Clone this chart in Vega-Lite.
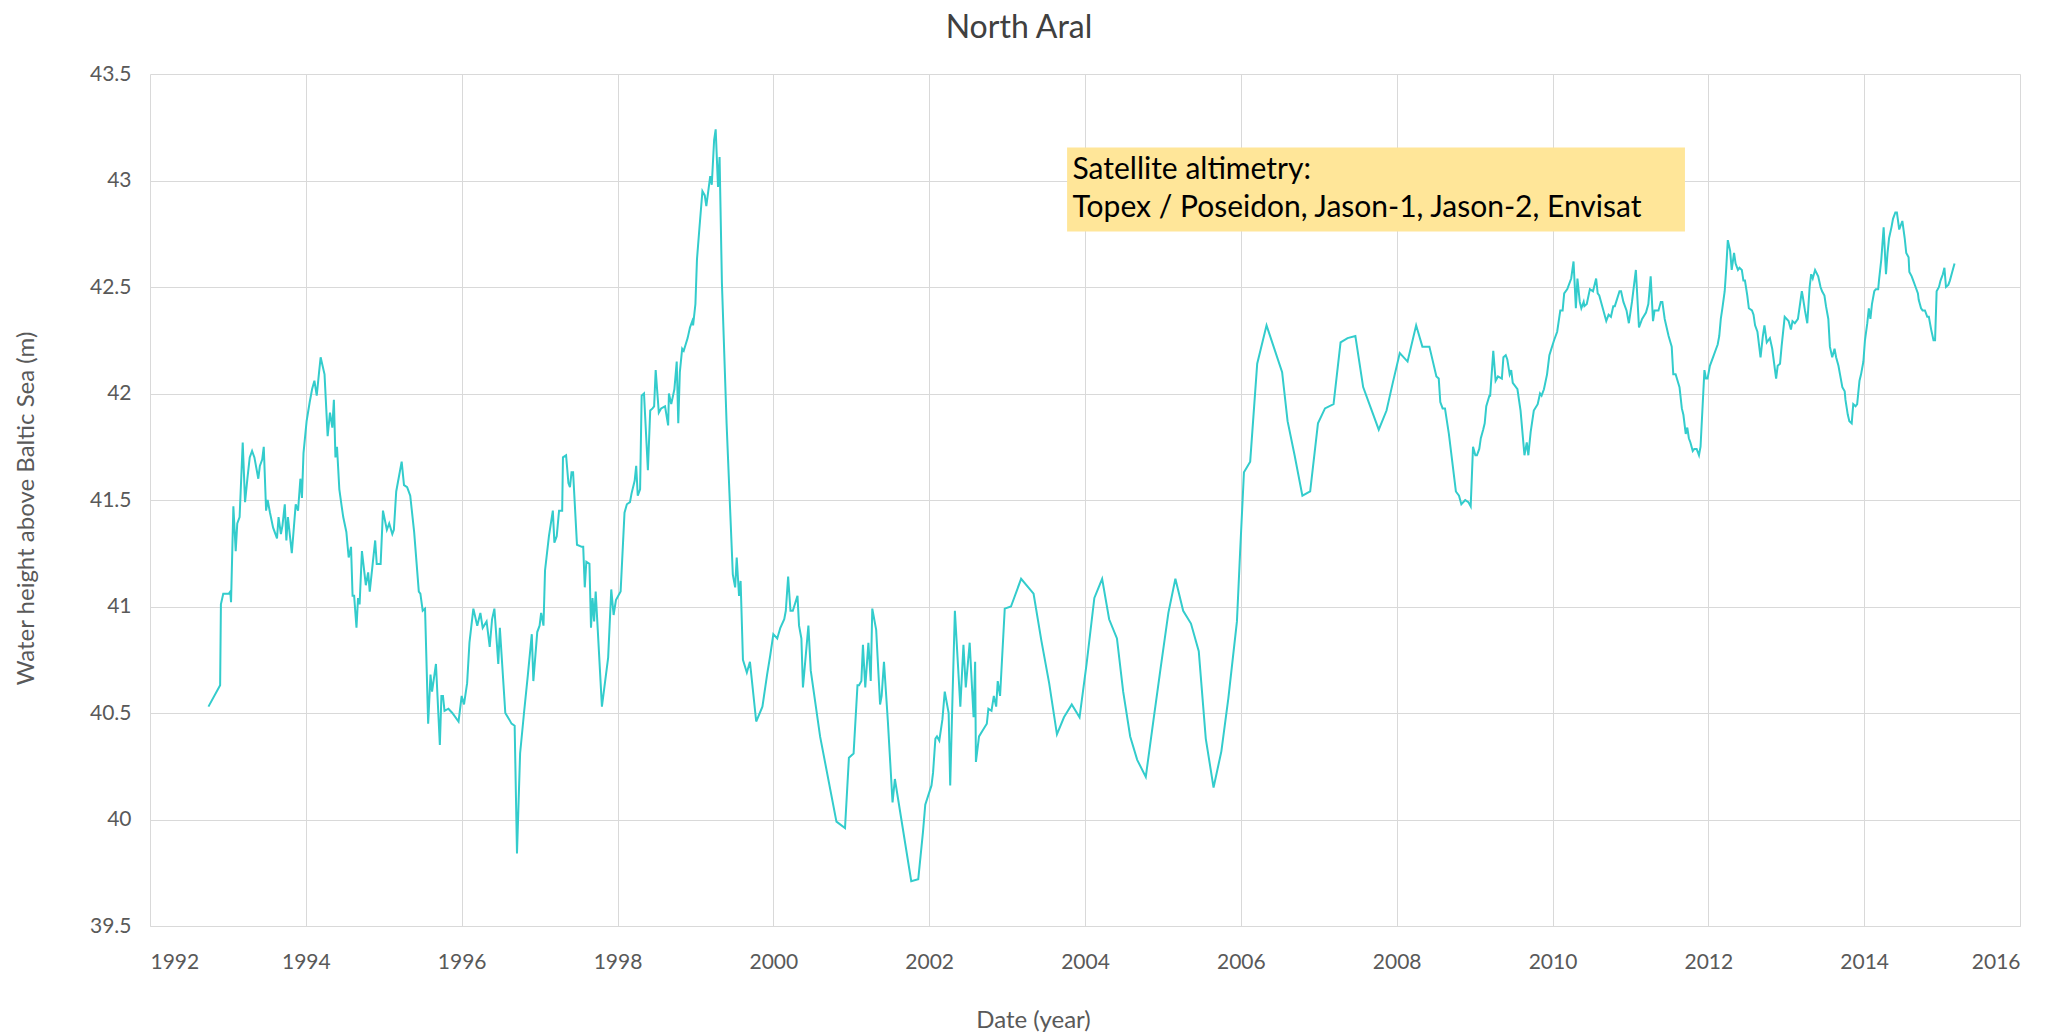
{
  "$schema": "https://vega.github.io/schema/vega-lite/v6.json",
  "width": 1870,
  "height": 852,
  "autosize": "none",
  "padding": {"left": 150, "top": 74, "right": 49, "bottom": 108},
  "background": "white",
  "config": {
    "font": "Lato",
    "view": {"stroke": null}
  },
  "title": {
    "text": "North Aral",
    "fontSize": 32,
    "fontWeight": "normal",
    "color": "#404040",
    "anchor": "middle",
    "dx": -66,
    "offset": 18
  },
  "datasets": {
    "series": [
      {"t": 1992.75, "h": 40.53}, {"t": 1992.90, "h": 40.63}, {"t": 1992.91, "h": 41.01}, {"t": 1992.94, "h": 41.06},
      {"t": 1993.01, "h": 41.06}, {"t": 1993.03, "h": 41.07}, {"t": 1993.04, "h": 41.02}, {"t": 1993.07, "h": 41.47},
      {"t": 1993.10, "h": 41.26}, {"t": 1993.12, "h": 41.39}, {"t": 1993.15, "h": 41.42}, {"t": 1993.19, "h": 41.77},
      {"t": 1993.22, "h": 41.49}, {"t": 1993.25, "h": 41.60}, {"t": 1993.28, "h": 41.70}, {"t": 1993.31, "h": 41.73},
      {"t": 1993.34, "h": 41.70}, {"t": 1993.39, "h": 41.60}, {"t": 1993.41, "h": 41.66}, {"t": 1993.44, "h": 41.69},
      {"t": 1993.46, "h": 41.75}, {"t": 1993.49, "h": 41.45}, {"t": 1993.51, "h": 41.50}, {"t": 1993.54, "h": 41.44},
      {"t": 1993.58, "h": 41.37}, {"t": 1993.63, "h": 41.32}, {"t": 1993.65, "h": 41.42}, {"t": 1993.68, "h": 41.34},
      {"t": 1993.70, "h": 41.38}, {"t": 1993.73, "h": 41.48}, {"t": 1993.75, "h": 41.31}, {"t": 1993.77, "h": 41.42},
      {"t": 1993.82, "h": 41.25}, {"t": 1993.87, "h": 41.48}, {"t": 1993.90, "h": 41.45}, {"t": 1993.93, "h": 41.60},
      {"t": 1993.95, "h": 41.51}, {"t": 1993.97, "h": 41.72}, {"t": 1994.01, "h": 41.87}, {"t": 1994.05, "h": 41.96},
      {"t": 1994.08, "h": 42.02}, {"t": 1994.11, "h": 42.06}, {"t": 1994.14, "h": 41.99}, {"t": 1994.17, "h": 42.10},
      {"t": 1994.19, "h": 42.17}, {"t": 1994.24, "h": 42.09}, {"t": 1994.28, "h": 41.80}, {"t": 1994.31, "h": 41.91},
      {"t": 1994.34, "h": 41.84}, {"t": 1994.36, "h": 41.97}, {"t": 1994.38, "h": 41.70}, {"t": 1994.40, "h": 41.75},
      {"t": 1994.43, "h": 41.55}, {"t": 1994.46, "h": 41.47}, {"t": 1994.48, "h": 41.42}, {"t": 1994.52, "h": 41.35},
      {"t": 1994.55, "h": 41.23}, {"t": 1994.58, "h": 41.28}, {"t": 1994.60, "h": 41.05}, {"t": 1994.62, "h": 41.05},
      {"t": 1994.65, "h": 40.90}, {"t": 1994.67, "h": 41.04}, {"t": 1994.69, "h": 41.01}, {"t": 1994.72, "h": 41.26},
      {"t": 1994.77, "h": 41.10}, {"t": 1994.80, "h": 41.16}, {"t": 1994.82, "h": 41.07}, {"t": 1994.89, "h": 41.31},
      {"t": 1994.91, "h": 41.20}, {"t": 1994.96, "h": 41.20}, {"t": 1994.99, "h": 41.45}, {"t": 1995.04, "h": 41.36},
      {"t": 1995.07, "h": 41.39}, {"t": 1995.11, "h": 41.34}, {"t": 1995.13, "h": 41.36}, {"t": 1995.16, "h": 41.54},
      {"t": 1995.23, "h": 41.68}, {"t": 1995.26, "h": 41.57}, {"t": 1995.30, "h": 41.56}, {"t": 1995.34, "h": 41.52},
      {"t": 1995.39, "h": 41.35}, {"t": 1995.45, "h": 41.07}, {"t": 1995.47, "h": 41.06}, {"t": 1995.50, "h": 40.98},
      {"t": 1995.53, "h": 40.99}, {"t": 1995.57, "h": 40.45}, {"t": 1995.60, "h": 40.68}, {"t": 1995.62, "h": 40.60},
      {"t": 1995.67, "h": 40.73}, {"t": 1995.72, "h": 40.35}, {"t": 1995.74, "h": 40.58}, {"t": 1995.76, "h": 40.58},
      {"t": 1995.78, "h": 40.51}, {"t": 1995.83, "h": 40.52}, {"t": 1995.88, "h": 40.50}, {"t": 1995.96, "h": 40.46},
      {"t": 1996.00, "h": 40.58}, {"t": 1996.03, "h": 40.54}, {"t": 1996.07, "h": 40.64}, {"t": 1996.10, "h": 40.83},
      {"t": 1996.15, "h": 40.99}, {"t": 1996.20, "h": 40.91}, {"t": 1996.24, "h": 40.97}, {"t": 1996.27, "h": 40.90},
      {"t": 1996.32, "h": 40.93}, {"t": 1996.36, "h": 40.81}, {"t": 1996.39, "h": 40.94}, {"t": 1996.42, "h": 40.99},
      {"t": 1996.47, "h": 40.73}, {"t": 1996.49, "h": 40.90}, {"t": 1996.56, "h": 40.50}, {"t": 1996.61, "h": 40.47},
      {"t": 1996.64, "h": 40.45}, {"t": 1996.68, "h": 40.44}, {"t": 1996.71, "h": 39.84}, {"t": 1996.75, "h": 40.31},
      {"t": 1996.80, "h": 40.50}, {"t": 1996.85, "h": 40.68}, {"t": 1996.90, "h": 40.87}, {"t": 1996.92, "h": 40.65},
      {"t": 1996.97, "h": 40.88}, {"t": 1997.00, "h": 40.91}, {"t": 1997.02, "h": 40.97}, {"t": 1997.05, "h": 40.91},
      {"t": 1997.07, "h": 41.17}, {"t": 1997.12, "h": 41.33}, {"t": 1997.17, "h": 41.45}, {"t": 1997.19, "h": 41.30},
      {"t": 1997.22, "h": 41.33}, {"t": 1997.25, "h": 41.45}, {"t": 1997.29, "h": 41.45}, {"t": 1997.30, "h": 41.70},
      {"t": 1997.34, "h": 41.71}, {"t": 1997.37, "h": 41.58}, {"t": 1997.39, "h": 41.56}, {"t": 1997.41, "h": 41.63},
      {"t": 1997.43, "h": 41.63}, {"t": 1997.48, "h": 41.29}, {"t": 1997.54, "h": 41.28}, {"t": 1997.56, "h": 41.28},
      {"t": 1997.58, "h": 41.09}, {"t": 1997.60, "h": 41.21}, {"t": 1997.64, "h": 41.20}, {"t": 1997.66, "h": 40.90},
      {"t": 1997.68, "h": 41.04}, {"t": 1997.70, "h": 40.93}, {"t": 1997.72, "h": 41.07}, {"t": 1997.80, "h": 40.53},
      {"t": 1997.88, "h": 40.76}, {"t": 1997.92, "h": 41.08}, {"t": 1997.95, "h": 40.96}, {"t": 1997.98, "h": 41.03},
      {"t": 1998.04, "h": 41.07}, {"t": 1998.09, "h": 41.44}, {"t": 1998.12, "h": 41.48}, {"t": 1998.16, "h": 41.49},
      {"t": 1998.18, "h": 41.53}, {"t": 1998.22, "h": 41.59}, {"t": 1998.24, "h": 41.66}, {"t": 1998.26, "h": 41.52},
      {"t": 1998.29, "h": 41.55}, {"t": 1998.31, "h": 41.99}, {"t": 1998.34, "h": 42.00}, {"t": 1998.39, "h": 41.64},
      {"t": 1998.42, "h": 41.92}, {"t": 1998.45, "h": 41.93}, {"t": 1998.47, "h": 41.94}, {"t": 1998.49, "h": 42.11},
      {"t": 1998.53, "h": 41.91}, {"t": 1998.56, "h": 41.93}, {"t": 1998.61, "h": 41.94}, {"t": 1998.65, "h": 41.85},
      {"t": 1998.66, "h": 42.00}, {"t": 1998.69, "h": 41.95}, {"t": 1998.73, "h": 42.02}, {"t": 1998.76, "h": 42.15},
      {"t": 1998.78, "h": 41.86}, {"t": 1998.80, "h": 42.10}, {"t": 1998.83, "h": 42.21}, {"t": 1998.85, "h": 42.20},
      {"t": 1998.90, "h": 42.26}, {"t": 1998.93, "h": 42.31}, {"t": 1998.96, "h": 42.34}, {"t": 1998.97, "h": 42.32},
      {"t": 1999.00, "h": 42.42}, {"t": 1999.02, "h": 42.63}, {"t": 1999.05, "h": 42.77}, {"t": 1999.09, "h": 42.95},
      {"t": 1999.12, "h": 42.93}, {"t": 1999.14, "h": 42.88}, {"t": 1999.19, "h": 43.02}, {"t": 1999.21, "h": 42.98},
      {"t": 1999.24, "h": 43.19}, {"t": 1999.26, "h": 43.24}, {"t": 1999.29, "h": 42.97}, {"t": 1999.31, "h": 43.11},
      {"t": 1999.34, "h": 42.52}, {"t": 1999.40, "h": 41.86}, {"t": 1999.48, "h": 41.15}, {"t": 1999.51, "h": 41.09},
      {"t": 1999.53, "h": 41.23}, {"t": 1999.56, "h": 41.05}, {"t": 1999.58, "h": 41.12}, {"t": 1999.61, "h": 40.75},
      {"t": 1999.66, "h": 40.69}, {"t": 1999.70, "h": 40.74}, {"t": 1999.78, "h": 40.46}, {"t": 1999.86, "h": 40.53},
      {"t": 1999.92, "h": 40.68}, {"t": 1999.96, "h": 40.77}, {"t": 2000.00, "h": 40.87}, {"t": 2000.05, "h": 40.85},
      {"t": 2000.09, "h": 40.90}, {"t": 2000.14, "h": 40.94}, {"t": 2000.16, "h": 40.98}, {"t": 2000.19, "h": 41.14},
      {"t": 2000.22, "h": 40.98}, {"t": 2000.25, "h": 40.98}, {"t": 2000.31, "h": 41.05}, {"t": 2000.33, "h": 40.91},
      {"t": 2000.36, "h": 40.85}, {"t": 2000.38, "h": 40.62}, {"t": 2000.45, "h": 40.91}, {"t": 2000.48, "h": 40.70},
      {"t": 2000.60, "h": 40.39}, {"t": 2000.81, "h": 39.99}, {"t": 2000.92, "h": 39.96}, {"t": 2000.97, "h": 40.29},
      {"t": 2001.03, "h": 40.31}, {"t": 2001.08, "h": 40.63}, {"t": 2001.10, "h": 40.63}, {"t": 2001.13, "h": 40.65},
      {"t": 2001.15, "h": 40.82}, {"t": 2001.18, "h": 40.62}, {"t": 2001.22, "h": 40.83}, {"t": 2001.25, "h": 40.65},
      {"t": 2001.27, "h": 40.99}, {"t": 2001.32, "h": 40.89}, {"t": 2001.37, "h": 40.54}, {"t": 2001.39, "h": 40.58},
      {"t": 2001.42, "h": 40.74}, {"t": 2001.47, "h": 40.46}, {"t": 2001.53, "h": 40.08}, {"t": 2001.56, "h": 40.19},
      {"t": 2001.77, "h": 39.71}, {"t": 2001.86, "h": 39.72}, {"t": 2001.92, "h": 39.94}, {"t": 2001.95, "h": 40.07},
      {"t": 2002.03, "h": 40.16}, {"t": 2002.05, "h": 40.22}, {"t": 2002.08, "h": 40.38}, {"t": 2002.10, "h": 40.39},
      {"t": 2002.13, "h": 40.37}, {"t": 2002.17, "h": 40.47}, {"t": 2002.20, "h": 40.60}, {"t": 2002.25, "h": 40.50},
      {"t": 2002.27, "h": 40.16}, {"t": 2002.30, "h": 40.58}, {"t": 2002.33, "h": 40.98}, {"t": 2002.40, "h": 40.53},
      {"t": 2002.44, "h": 40.82}, {"t": 2002.47, "h": 40.62}, {"t": 2002.52, "h": 40.83}, {"t": 2002.57, "h": 40.48},
      {"t": 2002.59, "h": 40.74}, {"t": 2002.60, "h": 40.27}, {"t": 2002.64, "h": 40.39}, {"t": 2002.69, "h": 40.42},
      {"t": 2002.74, "h": 40.45}, {"t": 2002.76, "h": 40.52}, {"t": 2002.80, "h": 40.51}, {"t": 2002.83, "h": 40.58},
      {"t": 2002.86, "h": 40.53}, {"t": 2002.88, "h": 40.65}, {"t": 2002.91, "h": 40.58}, {"t": 2002.97, "h": 40.99},
      {"t": 2003.05, "h": 41.00}, {"t": 2003.18, "h": 41.13}, {"t": 2003.34, "h": 41.06}, {"t": 2003.44, "h": 40.84},
      {"t": 2003.54, "h": 40.64}, {"t": 2003.64, "h": 40.40}, {"t": 2003.73, "h": 40.48}, {"t": 2003.83, "h": 40.54},
      {"t": 2003.93, "h": 40.48}, {"t": 2004.02, "h": 40.73}, {"t": 2004.12, "h": 41.04}, {"t": 2004.22, "h": 41.13},
      {"t": 2004.31, "h": 40.94}, {"t": 2004.41, "h": 40.85}, {"t": 2004.49, "h": 40.60}, {"t": 2004.58, "h": 40.39},
      {"t": 2004.67, "h": 40.28}, {"t": 2004.78, "h": 40.20}, {"t": 2004.88, "h": 40.47}, {"t": 2004.97, "h": 40.71},
      {"t": 2005.07, "h": 40.97}, {"t": 2005.16, "h": 41.13}, {"t": 2005.26, "h": 40.98}, {"t": 2005.36, "h": 40.92},
      {"t": 2005.46, "h": 40.79}, {"t": 2005.55, "h": 40.38}, {"t": 2005.65, "h": 40.15}, {"t": 2005.75, "h": 40.32},
      {"t": 2005.84, "h": 40.57}, {"t": 2005.95, "h": 40.93}, {"t": 2005.99, "h": 41.25}, {"t": 2006.04, "h": 41.63},
      {"t": 2006.12, "h": 41.68}, {"t": 2006.21, "h": 42.14}, {"t": 2006.33, "h": 42.32}, {"t": 2006.53, "h": 42.10},
      {"t": 2006.60, "h": 41.87}, {"t": 2006.69, "h": 41.71}, {"t": 2006.79, "h": 41.52}, {"t": 2006.89, "h": 41.54},
      {"t": 2006.99, "h": 41.86}, {"t": 2007.08, "h": 41.93}, {"t": 2007.19, "h": 41.95}, {"t": 2007.28, "h": 42.24},
      {"t": 2007.37, "h": 42.26}, {"t": 2007.47, "h": 42.27}, {"t": 2007.57, "h": 42.03}, {"t": 2007.67, "h": 41.93},
      {"t": 2007.77, "h": 41.83}, {"t": 2007.87, "h": 41.92}, {"t": 2007.95, "h": 42.05}, {"t": 2008.04, "h": 42.19},
      {"t": 2008.14, "h": 42.15}, {"t": 2008.25, "h": 42.32}, {"t": 2008.33, "h": 42.22}, {"t": 2008.42, "h": 42.22},
      {"t": 2008.51, "h": 42.08}, {"t": 2008.54, "h": 42.07}, {"t": 2008.56, "h": 41.96}, {"t": 2008.59, "h": 41.93},
      {"t": 2008.62, "h": 41.93}, {"t": 2008.67, "h": 41.81}, {"t": 2008.76, "h": 41.54}, {"t": 2008.80, "h": 41.52},
      {"t": 2008.83, "h": 41.48}, {"t": 2008.88, "h": 41.50}, {"t": 2008.92, "h": 41.49}, {"t": 2008.95, "h": 41.47},
      {"t": 2008.98, "h": 41.75}, {"t": 2009.01, "h": 41.71}, {"t": 2009.03, "h": 41.71}, {"t": 2009.06, "h": 41.74},
      {"t": 2009.08, "h": 41.79}, {"t": 2009.11, "h": 41.83}, {"t": 2009.13, "h": 41.86}, {"t": 2009.15, "h": 41.94},
      {"t": 2009.19, "h": 41.99}, {"t": 2009.20, "h": 41.99}, {"t": 2009.24, "h": 42.20}, {"t": 2009.27, "h": 42.06},
      {"t": 2009.30, "h": 42.08}, {"t": 2009.35, "h": 42.07}, {"t": 2009.37, "h": 42.17}, {"t": 2009.40, "h": 42.18},
      {"t": 2009.42, "h": 42.16}, {"t": 2009.45, "h": 42.09}, {"t": 2009.47, "h": 42.11}, {"t": 2009.49, "h": 42.05},
      {"t": 2009.55, "h": 42.02}, {"t": 2009.59, "h": 41.92}, {"t": 2009.64, "h": 41.71}, {"t": 2009.67, "h": 41.77},
      {"t": 2009.69, "h": 41.71}, {"t": 2009.72, "h": 41.82}, {"t": 2009.76, "h": 41.92}, {"t": 2009.81, "h": 41.95},
      {"t": 2009.84, "h": 42.00}, {"t": 2009.86, "h": 41.99}, {"t": 2009.89, "h": 42.02}, {"t": 2009.93, "h": 42.09},
      {"t": 2009.96, "h": 42.18}, {"t": 2010.02, "h": 42.25}, {"t": 2010.06, "h": 42.29}, {"t": 2010.10, "h": 42.39},
      {"t": 2010.13, "h": 42.39}, {"t": 2010.15, "h": 42.47}, {"t": 2010.19, "h": 42.49}, {"t": 2010.24, "h": 42.54},
      {"t": 2010.27, "h": 42.62}, {"t": 2010.30, "h": 42.40}, {"t": 2010.32, "h": 42.54}, {"t": 2010.35, "h": 42.43},
      {"t": 2010.37, "h": 42.40}, {"t": 2010.40, "h": 42.43}, {"t": 2010.41, "h": 42.41}, {"t": 2010.44, "h": 42.42},
      {"t": 2010.48, "h": 42.49}, {"t": 2010.52, "h": 42.48}, {"t": 2010.56, "h": 42.54}, {"t": 2010.58, "h": 42.47},
      {"t": 2010.60, "h": 42.46}, {"t": 2010.66, "h": 42.38}, {"t": 2010.69, "h": 42.34}, {"t": 2010.72, "h": 42.37},
      {"t": 2010.75, "h": 42.36}, {"t": 2010.78, "h": 42.41}, {"t": 2010.80, "h": 42.41}, {"t": 2010.86, "h": 42.48},
      {"t": 2010.88, "h": 42.48}, {"t": 2010.91, "h": 42.43}, {"t": 2010.95, "h": 42.39}, {"t": 2010.98, "h": 42.33},
      {"t": 2011.02, "h": 42.43}, {"t": 2011.07, "h": 42.58}, {"t": 2011.11, "h": 42.31}, {"t": 2011.15, "h": 42.35},
      {"t": 2011.20, "h": 42.38}, {"t": 2011.23, "h": 42.42}, {"t": 2011.26, "h": 42.55}, {"t": 2011.29, "h": 42.34},
      {"t": 2011.31, "h": 42.39}, {"t": 2011.36, "h": 42.39}, {"t": 2011.39, "h": 42.43}, {"t": 2011.41, "h": 42.43},
      {"t": 2011.44, "h": 42.35}, {"t": 2011.49, "h": 42.27}, {"t": 2011.53, "h": 42.22}, {"t": 2011.55, "h": 42.09},
      {"t": 2011.58, "h": 42.09}, {"t": 2011.63, "h": 42.03}, {"t": 2011.66, "h": 41.93}, {"t": 2011.68, "h": 41.90},
      {"t": 2011.71, "h": 41.81}, {"t": 2011.73, "h": 41.84}, {"t": 2011.75, "h": 41.79}, {"t": 2011.77, "h": 41.77},
      {"t": 2011.80, "h": 41.73}, {"t": 2011.82, "h": 41.74}, {"t": 2011.85, "h": 41.74}, {"t": 2011.88, "h": 41.71},
      {"t": 2011.90, "h": 41.75}, {"t": 2011.95, "h": 42.11}, {"t": 2011.97, "h": 42.07}, {"t": 2011.99, "h": 42.07},
      {"t": 2012.02, "h": 42.13}, {"t": 2012.06, "h": 42.17}, {"t": 2012.10, "h": 42.21}, {"t": 2012.12, "h": 42.23},
      {"t": 2012.14, "h": 42.27}, {"t": 2012.16, "h": 42.35}, {"t": 2012.18, "h": 42.40}, {"t": 2012.21, "h": 42.48},
      {"t": 2012.23, "h": 42.59}, {"t": 2012.25, "h": 42.72}, {"t": 2012.28, "h": 42.67}, {"t": 2012.30, "h": 42.58},
      {"t": 2012.33, "h": 42.66}, {"t": 2012.35, "h": 42.61}, {"t": 2012.38, "h": 42.58}, {"t": 2012.40, "h": 42.59},
      {"t": 2012.43, "h": 42.58}, {"t": 2012.45, "h": 42.53}, {"t": 2012.47, "h": 42.53}, {"t": 2012.50, "h": 42.46},
      {"t": 2012.52, "h": 42.40}, {"t": 2012.56, "h": 42.39}, {"t": 2012.58, "h": 42.37}, {"t": 2012.60, "h": 42.32},
      {"t": 2012.63, "h": 42.29}, {"t": 2012.64, "h": 42.26}, {"t": 2012.67, "h": 42.17}, {"t": 2012.70, "h": 42.27},
      {"t": 2012.72, "h": 42.32}, {"t": 2012.75, "h": 42.24}, {"t": 2012.77, "h": 42.25}, {"t": 2012.79, "h": 42.26},
      {"t": 2012.82, "h": 42.21}, {"t": 2012.87, "h": 42.07}, {"t": 2012.89, "h": 42.13}, {"t": 2012.92, "h": 42.14},
      {"t": 2012.94, "h": 42.22}, {"t": 2012.98, "h": 42.36}, {"t": 2013.03, "h": 42.34}, {"t": 2013.06, "h": 42.30},
      {"t": 2013.08, "h": 42.34}, {"t": 2013.11, "h": 42.33}, {"t": 2013.13, "h": 42.34}, {"t": 2013.15, "h": 42.35},
      {"t": 2013.20, "h": 42.48}, {"t": 2013.21, "h": 42.46}, {"t": 2013.24, "h": 42.39}, {"t": 2013.27, "h": 42.33},
      {"t": 2013.30, "h": 42.50}, {"t": 2013.32, "h": 42.56}, {"t": 2013.34, "h": 42.54}, {"t": 2013.37, "h": 42.58},
      {"t": 2013.41, "h": 42.55}, {"t": 2013.44, "h": 42.50}, {"t": 2013.46, "h": 42.48}, {"t": 2013.49, "h": 42.46},
      {"t": 2013.51, "h": 42.41}, {"t": 2013.54, "h": 42.35}, {"t": 2013.56, "h": 42.22}, {"t": 2013.59, "h": 42.17},
      {"t": 2013.62, "h": 42.21}, {"t": 2013.64, "h": 42.17}, {"t": 2013.67, "h": 42.13}, {"t": 2013.69, "h": 42.09},
      {"t": 2013.72, "h": 42.03}, {"t": 2013.75, "h": 42.01}, {"t": 2013.76, "h": 41.97}, {"t": 2013.79, "h": 41.90},
      {"t": 2013.81, "h": 41.87}, {"t": 2013.84, "h": 41.86}, {"t": 2013.86, "h": 41.95}, {"t": 2013.89, "h": 41.94},
      {"t": 2013.91, "h": 41.95}, {"t": 2013.94, "h": 42.06}, {"t": 2013.96, "h": 42.09}, {"t": 2013.99, "h": 42.15},
      {"t": 2014.01, "h": 42.25}, {"t": 2014.04, "h": 42.33}, {"t": 2014.06, "h": 42.40}, {"t": 2014.08, "h": 42.35},
      {"t": 2014.10, "h": 42.42}, {"t": 2014.13, "h": 42.48}, {"t": 2014.15, "h": 42.49}, {"t": 2014.18, "h": 42.49},
      {"t": 2014.19, "h": 42.53}, {"t": 2014.22, "h": 42.63}, {"t": 2014.25, "h": 42.78}, {"t": 2014.28, "h": 42.56},
      {"t": 2014.30, "h": 42.66}, {"t": 2014.32, "h": 42.73}, {"t": 2014.35, "h": 42.78}, {"t": 2014.37, "h": 42.82},
      {"t": 2014.40, "h": 42.85}, {"t": 2014.42, "h": 42.85}, {"t": 2014.45, "h": 42.77}, {"t": 2014.47, "h": 42.79},
      {"t": 2014.49, "h": 42.81}, {"t": 2014.52, "h": 42.73}, {"t": 2014.54, "h": 42.66}, {"t": 2014.57, "h": 42.64},
      {"t": 2014.58, "h": 42.57}, {"t": 2014.61, "h": 42.55}, {"t": 2014.63, "h": 42.53}, {"t": 2014.66, "h": 42.50},
      {"t": 2014.69, "h": 42.47}, {"t": 2014.70, "h": 42.44}, {"t": 2014.73, "h": 42.40}, {"t": 2014.75, "h": 42.39},
      {"t": 2014.78, "h": 42.39}, {"t": 2014.81, "h": 42.36}, {"t": 2014.83, "h": 42.36}, {"t": 2014.86, "h": 42.30},
      {"t": 2014.89, "h": 42.25}, {"t": 2014.91, "h": 42.25}, {"t": 2014.93, "h": 42.48}, {"t": 2014.96, "h": 42.50},
      {"t": 2014.98, "h": 42.53}, {"t": 2015.01, "h": 42.56}, {"t": 2015.03, "h": 42.59}, {"t": 2015.05, "h": 42.50},
      {"t": 2015.08, "h": 42.51}, {"t": 2015.10, "h": 42.53}, {"t": 2015.13, "h": 42.57}, {"t": 2015.16, "h": 42.61}
    ],
    "box": [{"x1": 2003.77, "x2": 2011.70, "y1": 43.155, "y2": 42.76}],
    "notes": [
      {"x": 2003.84, "y": 43.05, "label": "Satellite altimetry:"},
      {"x": 2003.84, "y": 42.87, "label": "Topex / Poseidon, Jason-1, Jason-2, Envisat"}
    ]
  },
  "layer": [
    {
      "data": {"name": "series"},
      "mark": {"type": "line", "color": "#33CCCC", "strokeWidth": 2, "interpolate": "linear"},
      "encoding": {
        "x": {
          "field": "t", "type": "quantitative",
          "scale": {"domain": [1992, 2016], "nice": false, "zero": false},
          "axis": {
            "values": [1992, 1994, 1996, 1998, 2000, 2002, 2004, 2006, 2008, 2010, 2012, 2014, 2016],
            "format": "d",
            "grid": true, "gridColor": "#D9D9D9", "gridWidth": 1,
            "ticks": false,
            "domain": true, "domainColor": "#D9D9D9", "domainWidth": 1,
            "labelFontSize": 21, "labelColor": "#595959", "labelPadding": 25,
            "labelFont": "Lato",
            "title": "Date (year)",
            "titleFont": "Lato", "titleFontSize": 24, "titleFontWeight": "normal", "titleColor": "#595959",
            "titleX": 883, "titleY": 94, "titleBaseline": "middle", "titleAlign": "center"
          }
        },
        "y": {
          "field": "h", "type": "quantitative",
          "scale": {"domain": [39.5, 43.5], "nice": false, "zero": false},
          "axis": {
            "values": [39.5, 40, 40.5, 41, 41.5, 42, 42.5, 43, 43.5],
            "format": "~f",
            "grid": true, "gridColor": "#D9D9D9", "gridWidth": 1,
            "ticks": false, "domain": false,
            "labelFontSize": 21, "labelColor": "#595959", "labelPadding": 19,
            "labelFont": "Lato",
            "title": "Water height above Baltic Sea (m)",
            "titleFont": "Lato", "titleFontSize": 24, "titleFontWeight": "normal", "titleColor": "#595959",
            "titleX": -124, "titleY": 434, "titleAngle": -90, "titleBaseline": "middle", "titleAlign": "center"
          }
        }
      }
    },
    {
      "data": {"name": "box"},
      "mark": {"type": "rect", "color": "#FFE699", "opacity": 1},
      "encoding": {
        "x": {"field": "x1", "type": "quantitative"},
        "x2": {"field": "x2"},
        "y": {"field": "y1", "type": "quantitative"},
        "y2": {"field": "y2"}
      }
    },
    {
      "data": {"name": "notes"},
      "mark": {"type": "text", "align": "left", "baseline": "middle", "fontSize": 30, "font": "Lato", "color": "#000000"},
      "encoding": {
        "x": {"field": "x", "type": "quantitative"},
        "y": {"field": "y", "type": "quantitative"},
        "text": {"field": "label"}
      }
    }
  ]
}
